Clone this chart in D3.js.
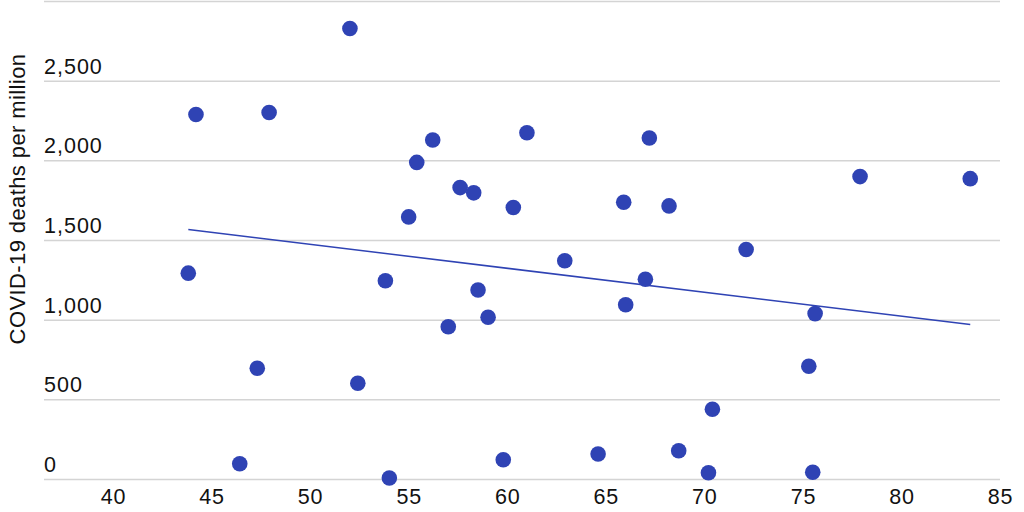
<!DOCTYPE html>
<html>
<head>
<meta charset="utf-8">
<script src="https://cdn.jsdelivr.net/npm/d3@7"></script>
<style>
  body { margin: 0; background: #fff; }
  text { font-family: "Liberation Sans", Arial, sans-serif; fill: #111; }
</style>
</head>
<body>
<div class="board"></div>
<script>
// values
var ageValues = [43.82, 44.21, 46.43, 47.32, 47.92, 52.02, 52.42, 53.82, 54.02, 55.0,
  55.41, 56.22, 57.01, 57.61, 58.30, 58.52, 59.03, 59.80, 60.31, 61.0,
  62.92, 64.61, 65.91, 66.01, 67.01, 67.21, 68.21, 68.70, 70.21, 70.41,
  72.12, 75.30, 75.50, 75.62, 77.90, 83.49];
var deathValues = [1292, 2288, 96, 695, 2300, 2827, 601, 1244, 6, 1645,
  1987, 2128, 956, 1829, 1796, 1186, 1015, 121, 1704, 2173,
  1370, 157, 1737, 1094, 1254, 2140, 1714, 177, 39, 438,
  1440, 708, 42, 1038, 1898, 1885];

// trend line end points
var trendX = [43.82, 83.49];
var trendY = [1566, 969];

var xTicks = [40, 45, 50, 55, 60, 65, 70, 75, 80, 85];
var yTicks = [0, 500, 1000, 1500, 2000, 2500, 3000];
var yTitle = "COVID-19 deaths per million";

var boardInfo = {
  width: 1024,
  height: 512,
  left: 44,
  right: 1000,
  top: 1,
  bottom: 479
};

var dotColor = "#2f43b4";

var points = ageValues.map(function(a, i) { return {x: a, y: deathValues[i]}; });
var trend = trendX.map(function(a, i) { return {x: a, y: trendY[i]}; });

var x = d3.scaleLinear().domain([36.5, 85]).range([boardInfo.left, boardInfo.right]);
var y = d3.scaleLinear().domain([0, 3000]).range([boardInfo.bottom, boardInfo.top]);

var svg = d3.select(".board").append("svg")
  .attr("width", boardInfo.width)
  .attr("height", boardInfo.height);

// gridlines + y labels (labels sit above the line, top one is off the page)
var yAxis = d3.axisRight(y).tickValues(yTicks)
  .tickSize(boardInfo.right - boardInfo.left)
  .tickFormat(function(d) { return d === 3000 ? "" : d3.format(",")(d); });

svg.append("g")
  .attr("transform", "translate(" + boardInfo.left + ",0)")
  .call(yAxis)
  .call(function(g) {
    g.select(".domain").remove();
    g.selectAll(".tick line").attr("stroke", "#d4d4d4").attr("stroke-width", 1.5);
    g.selectAll(".tick text")
      .attr("x", 0)
      .attr("dy", -7.5)
      .attr("text-anchor", "start")
      .style("font-size", "21.5px")
      .style("letter-spacing", "1px")
      .style("font-family", "'Liberation Sans', Arial, sans-serif")
      .attr("fill", "#111");
  });

var xAxis = d3.axisBottom(x).tickValues(xTicks).tickSize(0).tickPadding(0);

svg.append("g")
  .attr("transform", "translate(0," + boardInfo.bottom + ")")
  .call(xAxis)
  .call(function(g) {
    g.select(".domain").remove();
    g.selectAll(".tick text")
      .attr("y", 25)
      .attr("dy", 0)
      .style("font-size", "21.5px")
      .style("letter-spacing", "0.8px")
      .style("font-family", "'Liberation Sans', Arial, sans-serif")
      .attr("fill", "#111");
  });

svg.append("text")
  .attr("transform", "translate(25,199) rotate(-90)")
  .attr("text-anchor", "middle")
  .style("font-size", "22px")
  .style("letter-spacing", "0.4px")
  .text(yTitle);

svg.append("path")
  .datum(trend)
  .attr("fill", "none")
  .attr("stroke", dotColor)
  .attr("stroke-width", 1.5)
  .attr("d", d3.line()
    .x(function(d) { return x(d.x); })
    .y(function(d) { return y(d.y); }));

svg.selectAll("circle").data(points)
  .enter().append("circle")
  .attr("r", 7.8)
  .attr("cx", function(d) { return x(d.x); })
  .attr("cy", function(d) { return y(d.y); })
  .attr("fill", dotColor);
</script>
</body>
</html>
